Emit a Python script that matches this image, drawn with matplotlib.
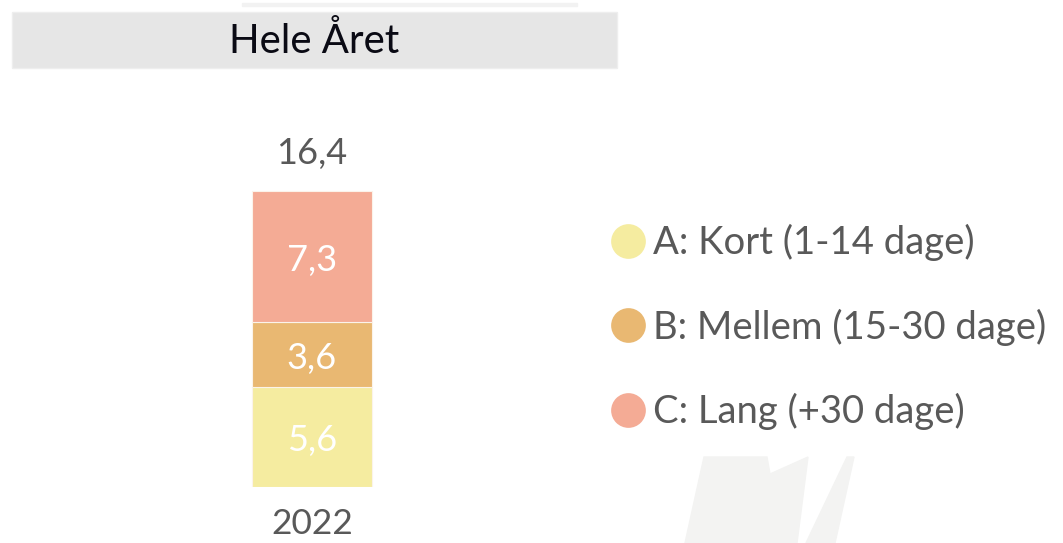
import matplotlib.pyplot as plt
from matplotlib.lines import Line2D
from matplotlib.patches import Rectangle, Polygon

plt.rcParams['font.family'] = ['Lato', 'DejaVu Sans']

# Data
years = ['2022']
series = ['A: Kort (1-14 dage)', 'B: Mellem (15-30 dage)', 'C: Lang (+30 dage)']
values = [[5.6], [3.6], [7.3]]
totals = [16.4]  # shown total (from unrounded source values)
colors = ['#f5eca0', '#e9b872', '#f4ab95']
title = 'Hele Året'

W, H = 1063, 543
fig = plt.figure(figsize=(W / 100, H / 100), dpi=100)
fig.patch.set_facecolor('white')


def fx(px):
    return px / W


def fy(py):
    return 1 - py / H


def fmt(v):
    return f'{v:.1f}'.replace('.', ',')


# faint watermark shapes at bottom right
wm = '#f3f3f2'
fig.add_artist(Polygon([(fx(704), fy(457)), (fx(767), fy(457)), (fx(770), fy(474)),
                        (fx(808), fy(457)), (fx(797), fy(543)), (fx(685), fy(543))],
                       closed=True, transform=fig.transFigure, color=wm, zorder=0))
fig.add_artist(Polygon([(fx(847), fy(457)), (fx(854), fy(457)), (fx(835), fy(543)), (fx(806), fy(543))],
                       closed=True, transform=fig.transFigure, color=wm, zorder=0))

# title band and thin line above
fig.add_artist(Rectangle((fx(242), fy(6)), fx(577 - 242), 3 / H, transform=fig.transFigure,
                         color='#f2f2f2', zorder=0))
fig.add_artist(Rectangle((fx(12), fy(68)), fx(617 - 12), 56 / H, transform=fig.transFigure,
                         facecolor='#e6e6e6', edgecolor='#eeeeee', lw=1, zorder=1))
fig.text(fx(314), fy(41), title, ha='center', va='center', fontsize=29, color='#0a0a14', zorder=2)

# bar axes: bottom at 487px, 17.93 px per unit
px_per_unit = 294 / 16.4
ax_bottom, ax_top = 487, 93
ax = fig.add_axes([fx(12), fy(ax_bottom), fx(600), (ax_bottom - ax_top) / H])
ax.set_xlim(-2.5, 2.5)
ax.set_ylim(0, (ax_bottom - ax_top) / px_per_unit)
ax.patch.set_alpha(0)

x = list(range(len(years)))
bottom = [0] * len(years)
for name, vals, c in zip(series, values, colors):
    ax.bar(x, vals, width=1, bottom=bottom, color=c, edgecolor='#fbf3ea', linewidth=0.8, label=name)
    for xi, b, v in zip(x, bottom, vals):
        ax.annotate(fmt(v), (xi, b + v / 2), xytext=(0, -3), textcoords='offset points',
                    ha='center', va='center', fontsize=26, color='white')
    bottom = [b + v for b, v in zip(bottom, vals)]

for xi, b, tot in zip(x, bottom, totals):
    ax.annotate(fmt(tot), (xi, b), xytext=(0, 27), textcoords='offset points',
                ha='center', va='center', fontsize=26, color='#595959', annotation_clip=False)

ax.set_xticks(x)
ax.set_xticklabels(years, fontsize=25.5, color='#595959')
ax.tick_params(axis='x', length=0, pad=15)
ax.set_yticks([])
for s in ax.spines.values():
    s.set_visible(False)

# legend
handles = [Line2D([], [], marker='o', linestyle='none', markersize=25, markerfacecolor=c,
                  markeredgecolor='none') for c in colors]
fig.legend(handles, series, loc='center left', bbox_to_anchor=(fx(611), fy(327)), frameon=False,
           fontsize=27.5, labelcolor='#595959', handlelength=0.89, handletextpad=0.21,
           labelspacing=1.24, borderpad=0, borderaxespad=0)

fig.savefig('out.png', dpi=100)
